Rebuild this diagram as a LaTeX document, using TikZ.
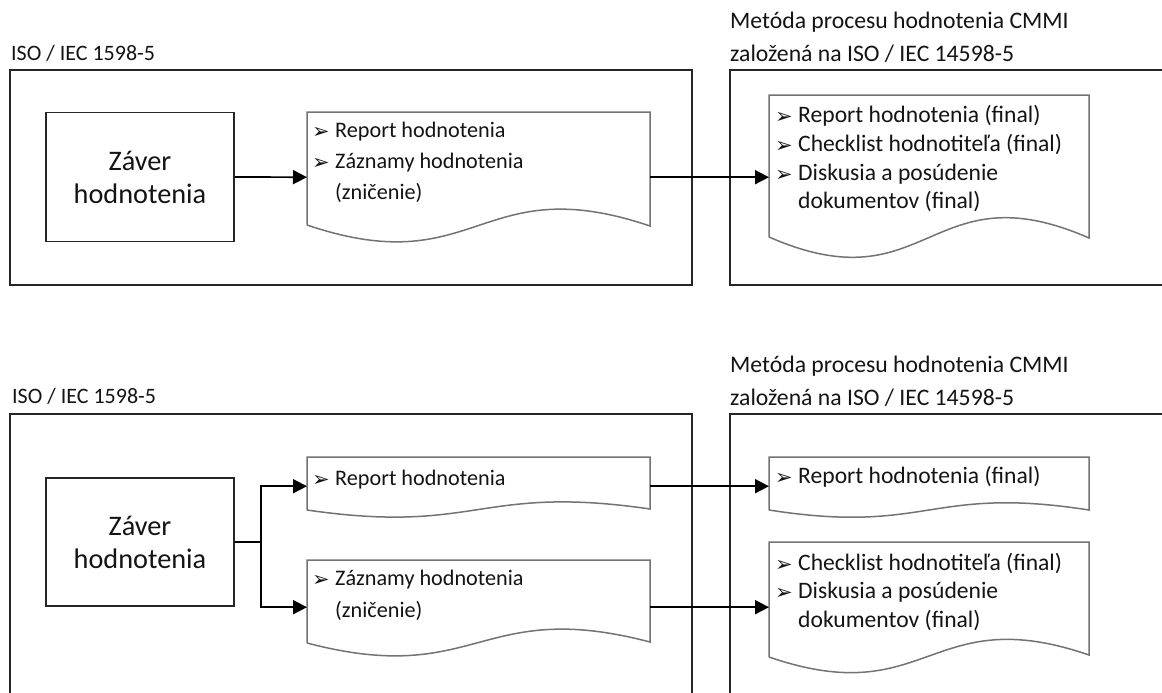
\documentclass[tikz,border=0pt]{standalone}
\usepackage{fontspec}
\setmainfont{Carlito}
\newfontfamily\symfont{DejaVu Sans}
\usetikzlibrary{arrows.meta}
\newcommand{\bulglyph}{{\symfont\fontsize{21}{21}\selectfont ➢}}
\tikzset{
  frame/.style={draw=black!85, line width=1.7pt, inner sep=0pt, anchor=north west},
  zbox/.style={draw=black!85, line width=1.7pt, inner sep=0pt, align=center,
    font=\fontsize{28.3}{33}\selectfont, text=black!92},
  docnode/.style={inner sep=0pt, anchor=north west},
  docline/.style={draw=black!55, line width=1.5pt, line join=miter},
  conn/.style={draw=black, line width=1.7pt, -{Triangle[length=14pt,width=14pt]}},
  plainline/.style={draw=black, line width=1.7pt},
  txtL/.style={anchor=base west, inner sep=0pt, font=\fontsize{22.2}{26}\selectfont, text=black!92},
  txtR/.style={anchor=base west, inner sep=0pt, font=\fontsize{23.6}{28}\selectfont, text=black!92},
  lblL/.style={anchor=base west, inner sep=0pt, font=\fontsize{22}{26}\selectfont, text=black!92},
  lblR/.style={anchor=base west, inner sep=0pt, font=\fontsize{23.7}{28}\selectfont, text=black!92},
  bul/.style={anchor=base west, inner sep=0pt, text=black!92},
}
\begin{document}
\begin{tikzpicture}[x=1pt,y=-1pt]
\useasboundingbox[fill=white] (0,0) rectangle (1162,693);

%% ================= TOP =================
\node[lblL] (tl1) at (11,61) {ISO / IEC 1598-5};
\node[lblR] (tr1) at (730,29) {Metóda procesu hodnotenia CMMI};
\node[lblR] (tr2) at (730,62) {založená na ISO / IEC 14598-5};

\node[frame, minimum width=682pt, minimum height=215pt] (fTL) at (9,69) {};
\node[frame, minimum width=435pt, minimum height=215pt] (fTR) at (729,69) {};

\node[zbox, minimum width=188pt, minimum height=129pt] (zA) at (140,177) {Záver\\hodnotenia};

% document 1
\node[docnode, minimum width=343pt, minimum height=130pt] (d1) at (307,112) {};
\draw[docline] (307,225) -- (307,112) -- (650,112) -- (650,226)
  .. controls (478.5,168) and (478.5,283) .. (307,225);
\node[bul] (d1b1) at (312,138) {\bulglyph};
\node[txtL] (d1t1) at (335,137) {Report hodnotenia};
\node[bul] (d1b2) at (312,169) {\bulglyph};
\node[txtL] (d1t2) at (335,168) {Záznamy hodnotenia};
\node[txtL] (d1t3) at (335,199) {(zničenie)};

% document 2
\node[docnode, minimum width=320pt, minimum height=164pt] (d2) at (769,95) {};
\draw[docline] (769,237) -- (769,95) -- (1089,95) -- (1089,238)
  .. controls (929,168) and (929,307) .. (769,237);
\node[bul] (d2b1) at (775,123) {\bulglyph};
\node[txtR] (d2t1) at (798,122) {Report hodnotenia (final)};
\node[bul] (d2b2) at (775,152) {\bulglyph};
\node[txtR] (d2t2) at (798,151) {Checklist hodnotiteľa (final)};
\node[bul] (d2b3) at (775,181) {\bulglyph};
\node[txtR] (d2t3) at (798,180) {Diskusia a posúdenie};
\node[txtR] (d2t4) at (798,208) {dokumentov (final)};

\draw[conn] (zA.east) -- (d1.west);
\draw[conn] (d1.east) -- (d2.west);

%% ================= BOTTOM =================
\node[lblL] (bl1) at (12,403) {ISO / IEC 1598-5};
\node[lblR] (br1) at (730,372) {Metóda procesu hodnotenia CMMI};
\node[lblR] (br2) at (730,405) {založená na ISO / IEC 14598-5};

\node[frame, minimum width=682pt, minimum height=320pt] (fBL) at (9,413) {};
\node[frame, minimum width=435pt, minimum height=320pt] (fBR) at (729,413) {};

\node[zbox, minimum width=188pt, minimum height=128pt] (zB) at (140,542) {Záver\\hodnotenia};

% document A
\node[docnode, minimum width=343pt, minimum height=58pt] (dA) at (307,457) {};
\draw[docline] (307,510) -- (307,457) -- (650,457) -- (650,509)
  .. controls (478.5,484) and (478.5,535) .. (307,510);
\node[bul] (dAb1) at (312,486) {\bulglyph};
\node[txtL] (dAt1) at (335,485) {Report hodnotenia};

% document B
\node[docnode, minimum width=343pt, minimum height=94pt] (dB) at (307,560) {};
\draw[docline] (307,643) -- (307,560) -- (650,560) -- (650,642)
  .. controls (478.5,597) and (478.5,688) .. (307,643);
\node[bul] (dBb1) at (312,586) {\bulglyph};
\node[txtL] (dBt1) at (335,585) {Záznamy hodnotenia};
\node[txtL] (dBt2) at (335,617) {(zničenie)};

% document C
\node[docnode, minimum width=320pt, minimum height=58pt] (dC) at (769,457) {};
\draw[docline] (769,510) -- (769,457) -- (1089,457) -- (1089,510)
  .. controls (929,485) and (929,535) .. (769,510);
\node[bul] (dCb1) at (775,484) {\bulglyph};
\node[txtR] (dCt1) at (798,483) {Report hodnotenia (final)};

% document D
\node[docnode, minimum width=320pt, minimum height=130pt] (dD) at (769,542) {};
\draw[docline] (769,657) -- (769,542) -- (1089,542) -- (1089,655)
  .. controls (929,600) and (929,712) .. (769,657);
\node[bul] (dDb1) at (775,571) {\bulglyph};
\node[txtR] (dDt1) at (798,570) {Checklist hodnotiteľa (final)};
\node[bul] (dDb2) at (775,599) {\bulglyph};
\node[txtR] (dDt2) at (798,598) {Diskusia a posúdenie};
\node[txtR] (dDt3) at (798,627) {dokumentov (final)};

\coordinate (split) at ([xshift=26pt]zB.east);
\draw[plainline] (zB.east) -- (split);
\draw[conn] (split) |- (dA.west);
\draw[conn] (split) |- (dB.west);
\draw[conn] (dA.east) -- (dC.west);
\draw[conn] (dB.east) -- (dD.west);
\end{tikzpicture}
\end{document}
